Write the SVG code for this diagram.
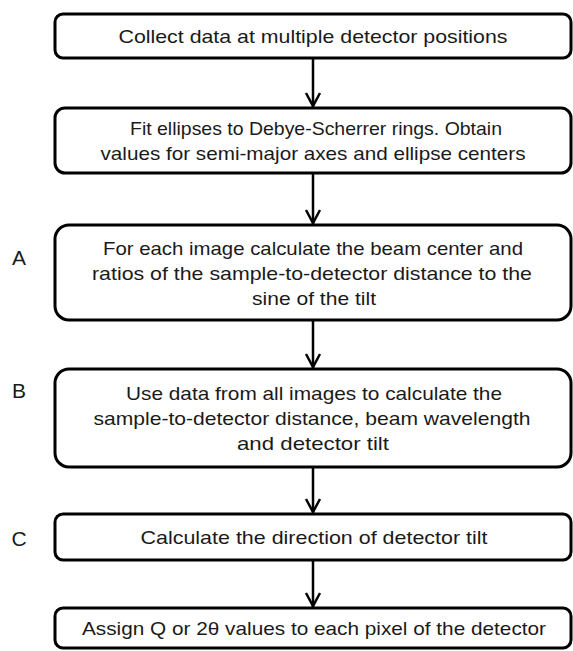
<svg xmlns="http://www.w3.org/2000/svg" width="573" height="651" viewBox="0 0 573 651">
<style>
.box{fill:#fff;stroke:#000;stroke-width:3}
.t{font-family:"Liberation Sans",Arial,sans-serif;font-size:19px;fill:#1a1a1a;text-anchor:middle}
.lbl{font-family:"Liberation Sans",Arial,sans-serif;font-size:21px;fill:#1a1a1a;text-anchor:middle}
.conn line{stroke:#000;stroke-width:2.5}
</style>
<defs>
<marker id="arr" markerUnits="userSpaceOnUse" markerWidth="20" markerHeight="20" viewBox="-16 -10 20 20" refX="0" refY="0" orient="auto">
<path d="M-14,-7 L-1,0 L-14,7" fill="none" stroke="#000" stroke-width="2.5"/>
</marker>
</defs>
<rect width="573" height="651" fill="#fff"/>
<g class="conn">
<line x1="313" y1="58" x2="313" y2="107" marker-end="url(#arr)"/>
<line x1="313" y1="174" x2="313" y2="224" marker-end="url(#arr)"/>
<line x1="313" y1="320" x2="313" y2="368" marker-end="url(#arr)"/>
<line x1="313" y1="467" x2="313" y2="513" marker-end="url(#arr)"/>
<line x1="313" y1="560" x2="313" y2="607" marker-end="url(#arr)"/>
</g>
<g id="n1">
<rect class="box" x="55" y="14" width="516" height="44" rx="8"/>
<text class="t" x="313" y="43" textLength="389" lengthAdjust="spacingAndGlyphs">Collect data at multiple detector positions</text>
</g>
<g id="n2">
<rect class="box" x="55" y="108" width="516" height="65" rx="10"/>
<text class="t" x="316" y="135" textLength="372" lengthAdjust="spacingAndGlyphs">Fit ellipses to Debye-Scherrer rings. Obtain</text>
<text class="t" x="313" y="160" textLength="425" lengthAdjust="spacingAndGlyphs">values for semi-major axes and ellipse centers</text>
</g>
<g id="nA">
<rect class="box" x="55" y="225" width="516" height="95" rx="14"/>
<text class="t" x="313" y="255" textLength="420" lengthAdjust="spacingAndGlyphs">For each image calculate the beam center and</text>
<text class="t" x="312" y="280" textLength="440" lengthAdjust="spacingAndGlyphs">ratios of the sample-to-detector distance to the</text>
<text class="t" x="314" y="305" textLength="124" lengthAdjust="spacingAndGlyphs">sine of the tilt</text>
</g>
<g id="nB">
<rect class="box" x="55" y="369" width="516" height="98" rx="14"/>
<text class="t" x="314" y="400" textLength="376" lengthAdjust="spacingAndGlyphs">Use data from all images to calculate the</text>
<text class="t" x="312" y="425" textLength="437" lengthAdjust="spacingAndGlyphs">sample-to-detector distance, beam wavelength</text>
<text class="t" x="313" y="450" textLength="152" lengthAdjust="spacingAndGlyphs">and  detector tilt</text>
</g>
<g id="nC">
<rect class="box" x="55" y="514" width="516" height="46" rx="8"/>
<text class="t" x="314" y="544" textLength="347" lengthAdjust="spacingAndGlyphs">Calculate the direction of detector tilt</text>
</g>
<g id="n6">
<rect class="box" x="55" y="608" width="516" height="40" rx="8"/>
<text class="t" x="314" y="635" textLength="464" lengthAdjust="spacingAndGlyphs">Assign Q or 2θ values to each pixel of the detector</text>
</g>
<g id="labels">
<text class="lbl" x="19" y="265">A</text>
<text class="lbl" x="19" y="398">B</text>
<text class="lbl" x="19" y="546">C</text>
</g>
</svg>
